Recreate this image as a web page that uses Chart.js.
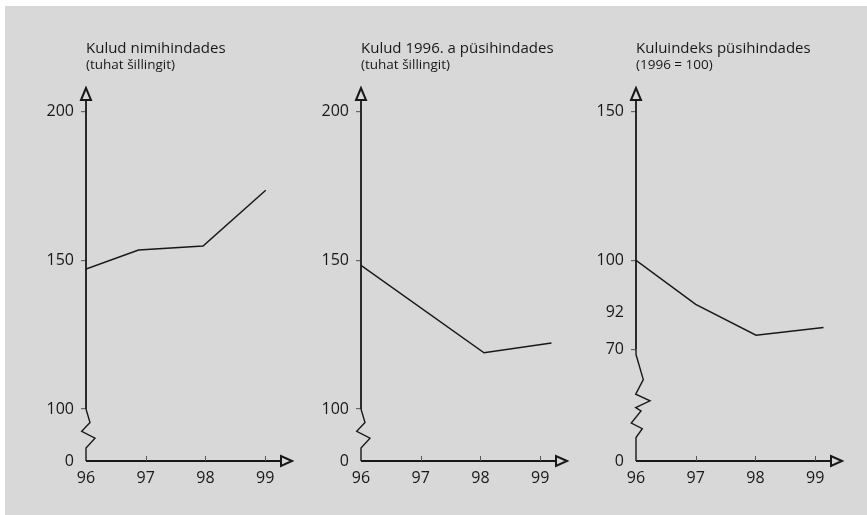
<!DOCTYPE html>
<html>
<head>
<meta charset="utf-8">
<script src="https://cdn.jsdelivr.net/npm/chart.js@4.4.0/dist/chart.umd.min.js"></script>
<style>
  body { margin: 0; background: #fff; width: 867px; height: 515px; overflow: hidden; position: relative; }
  #bg { position: absolute; left: 5px; top: 6px; right: 0; bottom: 0; background: #d8d8d8; }
  canvas { position: absolute; top: 0; }
</style>
</head>
<body>
<div id="bg"></div>
<canvas id="c0" width="300" height="515" style="left:0px"></canvas>
<canvas id="c1" width="300" height="515" style="left:275px"></canvas>
<canvas id="c2" width="300" height="515" style="left:550px"></canvas>
<script>
// x ticks shared by all three panels
const xTicks = [96, 97, 98, 99];

// panel 1: Kulud nimihindades
const nominalYears = [96, 96.88, 97.96, 99.01];
const nominalCost = [147.1, 153.5, 154.8, 173.6];
const nominalTicks = [0, 100, 150, 200];
const nominalTickLabels = ['0', '100', '150', '200'];

// panel 2: Kulud 1996. a püsihindades
const realYears = [96, 98.06, 99.19];
const realCost = [148.3, 118.9, 122.2];
const realTicks = [0, 100, 150, 200];
const realTickLabels = ['0', '100', '150', '200'];

// panel 3: Kuluindeks püsihindades
const indexYears = [96, 97, 98.01, 99.14];
const costIndex = [100, 85.2, 74.8, 77.4];
const indexTicks = [0, 70, 82.4, 100, 150];
const indexTickLabels = ['0', '70', '92', '100', '150'];

const titles = ['Kulud nimihindades', 'Kulud 1996. a püsihindades', 'Kuluindeks püsihindades'];
const subtitles = ['(tuhat šillingit)', '(tuhat šillingit)', '(1996 = 100)'];

const INK = '#181818';
const FONT = 'Open Sans';

// axis break: everything under breakAt is squeezed so 0 sits at zeroAt
function makeMap(breakAt, zeroAt) {
  return v => v >= breakAt ? v : zeroAt + v * (breakAt - zeroAt) / breakAt;
}

// zigzag drawn between the break and zero (dx, fraction of the gap)
const zigSmall = [[0,0],[4,0.26],[-4.3,0.43],[9,0.56],[0,0.75],[0,1]];
const zigLong = [[0,0],[0,0.045],[7.3,0.27],[-0.3,0.4],[14,0.46],[-0.3,0.52],[5,0.55],[-4.7,0.66],[6.3,0.71],[0,0.79],[0,1]];

const decor = {
  id: 'decor',
  afterDraw(chart) {
    const o = chart.options.plugins.decor;
    const ctx = chart.ctx, xs = chart.scales.x, ys = chart.scales.y;
    const ax = xs.getPixelForValue(96);
    const y0 = ys.getPixelForValue(o.zeroAt);
    const yb = ys.getPixelForValue(o.breakAt);
    const top = chart.chartArea.top, right = chart.chartArea.right;
    ctx.save();
    ctx.strokeStyle = INK;
    ctx.lineWidth = 1.8;
    ctx.lineJoin = 'miter';
    // y axis above the break
    ctx.beginPath();
    ctx.moveTo(ax, yb);
    ctx.lineTo(ax, top + 12);
    ctx.stroke();
    // zigzag
    ctx.lineWidth = 1.4;
    ctx.beginPath();
    o.zig.forEach((p, i) => {
      const px = ax + p[0], py = yb + p[1] * (y0 - yb);
      if (i === 0) ctx.moveTo(px, py); else ctx.lineTo(px, py);
    });
    ctx.stroke();
    // x axis
    ctx.lineWidth = 1.8;
    ctx.beginPath();
    ctx.moveTo(ax, y0);
    ctx.lineTo(right - 11, y0);
    ctx.stroke();
    // arrow heads (open triangles)
    ctx.lineWidth = 2;
    ctx.beginPath();
    ctx.moveTo(ax, top);
    ctx.lineTo(ax - 5, top + 12);
    ctx.lineTo(ax + 5, top + 12);
    ctx.closePath();
    ctx.stroke();
    ctx.beginPath();
    ctx.moveTo(right, y0);
    ctx.lineTo(right - 11, y0 - 5);
    ctx.lineTo(right - 11, y0 + 5);
    ctx.closePath();
    ctx.stroke();
    // small x tick marks pointing up
    ctx.strokeStyle = '#555';
    ctx.lineWidth = 1;
    xTicks.slice(1).forEach(v => {
      const px = Math.round(xs.getPixelForValue(v)) + 0.5;
      ctx.beginPath();
      ctx.moveTo(px, y0);
      ctx.lineTo(px, y0 - 5);
      ctx.stroke();
    });
    // titles
    ctx.fillStyle = INK;
    ctx.textAlign = 'left';
    ctx.textBaseline = 'alphabetic';
    ctx.font = '15px "' + FONT + '"';
    ctx.fillText(o.title, ax, 53);
    ctx.font = '13.5px "' + FONT + '"';
    ctx.fillText(o.subtitle, ax, 69);
    ctx.restore();
  }
};

function makePanel(id, i, years, values, tickVals, tickLabels, breakAt, zeroAt, yMin, yMax, zig) {
  const map = makeMap(breakAt, zeroAt);
  const shown = tickVals.map(map);
  return new Chart(document.getElementById(id), {
    type: 'line',
    data: {
      datasets: [{
        data: years.map((x, k) => ({ x: x, y: map(values[k]) })),
        borderColor: INK,
        borderWidth: 1.5,
        pointRadius: 0,
        fill: false,
        tension: 0
      }]
    },
    options: {
      responsive: false,
      devicePixelRatio: 1,
      animation: false,
      layout: { padding: { top: 88, right: 8, left: 0, bottom: 0 } },
      scales: {
        x: {
          type: 'linear',
          min: 96,
          max: 99.45,
          afterBuildTicks: s => { s.ticks = xTicks.map(v => ({ value: v })); },
          afterFit: s => { s.height = 54; },
          ticks: {
            callback: v => String(v),
            padding: 8,
            maxRotation: 0,
            autoSkip: false,
            color: INK,
            font: { family: FONT, size: 16 }
          },
          grid: { drawOnChartArea: false, drawTicks: false },
          border: { display: false }
        },
        y: {
          type: 'linear',
          min: yMin,
          max: yMax,
          afterBuildTicks: s => { s.ticks = shown.map(v => ({ value: v })); },
          afterFit: s => { s.width = 86; },
          ticks: {
            callback: (v, k) => tickLabels[k],
            padding: 7,
            autoSkip: false,
            color: INK,
            font: { family: FONT, size: 16 }
          },
          grid: {
            drawOnChartArea: false,
            tickLength: 5,
            lineWidth: 1.2,
            color: c => (tickVals[c.index] === 0 || tickLabels[c.index] === '92') ? 'rgba(0,0,0,0)' : '#666'
          },
          border: { display: false }
        }
      },
      plugins: {
        legend: { display: false },
        tooltip: { enabled: false },
        decor: { breakAt: breakAt, zeroAt: zeroAt, zig: zig, title: titles[i], subtitle: subtitles[i] }
      }
    },
    plugins: [decor]
  });
}

makePanel('c0', 0, nominalYears, nominalCost, nominalTicks, nominalTickLabels, 100, 82.5, 82.5, 208, zigSmall);
makePanel('c1', 1, realYears, realCost, realTicks, realTickLabels, 100, 82.5, 82.5, 208, zigSmall);
makePanel('c2', 2, indexYears, costIndex, indexTicks, indexTickLabels, 70, 32.5, 32.5, 158, zigLong);
</script>
</body>
</html>
